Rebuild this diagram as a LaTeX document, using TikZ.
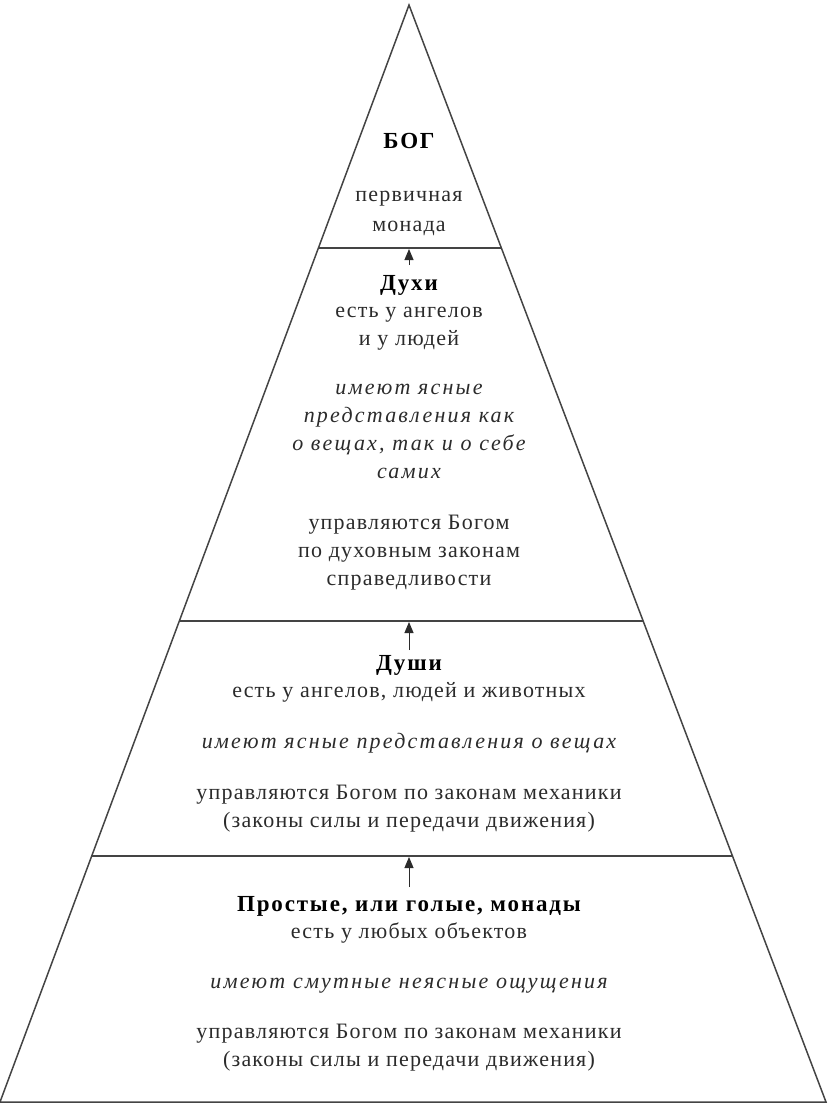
\documentclass[tikz,border=0pt]{standalone}
\usepackage{fontspec}
\setmainfont{Liberation Serif}[LetterSpace=5.5]
\newfontfamily\hdfont{Liberation Serif}[LetterSpace=8]
\newfontfamily\itfont{Liberation Serif}[LetterSpace=10]
\usetikzlibrary{arrows.meta}
\definecolor{txt}{HTML}{2B2B2B}
\definecolor{ln}{HTML}{444444}
\begin{document}
\begin{tikzpicture}[x=1pt,y=-1pt,
  edge/.style={draw=ln,line width=1.5pt},
  divider/.style={draw=ln,line width=1.5pt},
  uparrow/.style={draw=txt,line width=1pt,-{Triangle[length=11pt,width=9pt]}},
  ln/.style={anchor=base,inner sep=0pt,text=txt,font=\fontsize{22}{28}\selectfont},
  hd/.style={ln,text=black,font=\hdfont\fontsize{23}{28}\selectfont\bfseries},
  it/.style={ln,font=\itfont\fontsize{22}{28}\selectfont\itshape}]
\useasboundingbox (0,0) rectangle (828,1104);
\coordinate (apex) at (409,5);
\coordinate (bl) at (0,1102);
\coordinate (br) at (826,1102);
\draw[edge,line join=miter] (apex) -- (bl) -- (br) -- cycle;
% dividers
\coordinate (d1l) at (318.4,248); \coordinate (d1r) at (501.4,248);
\coordinate (d2l) at (179.3,621); \coordinate (d2r) at (643.2,621);
\coordinate (d3l) at (91.7,856);  \coordinate (d3r) at (732.5,856);
\coordinate (d1) at (409,249);
\coordinate (d2) at (409,622);
\coordinate (d3) at (409,857);
\draw[divider] (d1l) -- (d1r);
\draw[divider] (d2l) -- (d2r);
\draw[divider] (d3l) -- (d3r);
% God
\node[hd] (god) at (409,148) {БОГ};
\node[ln] (g1) at (409,201) {первичная};
\node[ln] (g2) at (409,231) {монада};
% Spirits
\node[hd] (spirits) at (409,290) {Духи};
\node[ln] (s1) at (409,317) {есть у ангелов};
\node[ln] (s2) at (409,345) {и у людей};
\node[it] (s3) at (409,394) {имеют ясные};
\node[it] (s4) at (409,422) {представления как};
\node[it] (s5) at (409,450) {о вещах, так и о себе};
\node[it] (s6) at (409,478) {самих};
\node[ln] (s7) at (409,529) {управляются Богом};
\node[ln] (s8) at (409,557) {по духовным законам};
\node[ln] (s9) at (409,585) {справедливости};
% Souls
\node[hd] (souls) at (409,670) {Души};
\node[ln] (u1) at (409,697) {есть у ангелов, людей и животных};
\node[it] (u2) at (409,748) {имеют ясные представления о вещах};
\node[ln] (u3) at (409,799) {управляются Богом по законам механики};
\node[ln] (u4) at (409,827) {(законы силы и передачи движения)};
% Simple monads
\node[hd] (simple) at (409,911) {Простые, или голые, монады};
\node[ln] (m1) at (409,938) {есть у любых объектов};
\node[it] (m2) at (409,988) {имеют смутные неясные ощущения};
\node[ln] (m3) at (409,1038) {управляются Богом по законам механики};
\node[ln] (m4) at (409,1066) {(законы силы и передачи движения)};
% arrows
\draw[uparrow] (409,265) -- (d1);
\draw[uparrow] (409,650) -- (d2);
\draw[uparrow] (409,887) -- (d3);
\end{tikzpicture}
\end{document}
